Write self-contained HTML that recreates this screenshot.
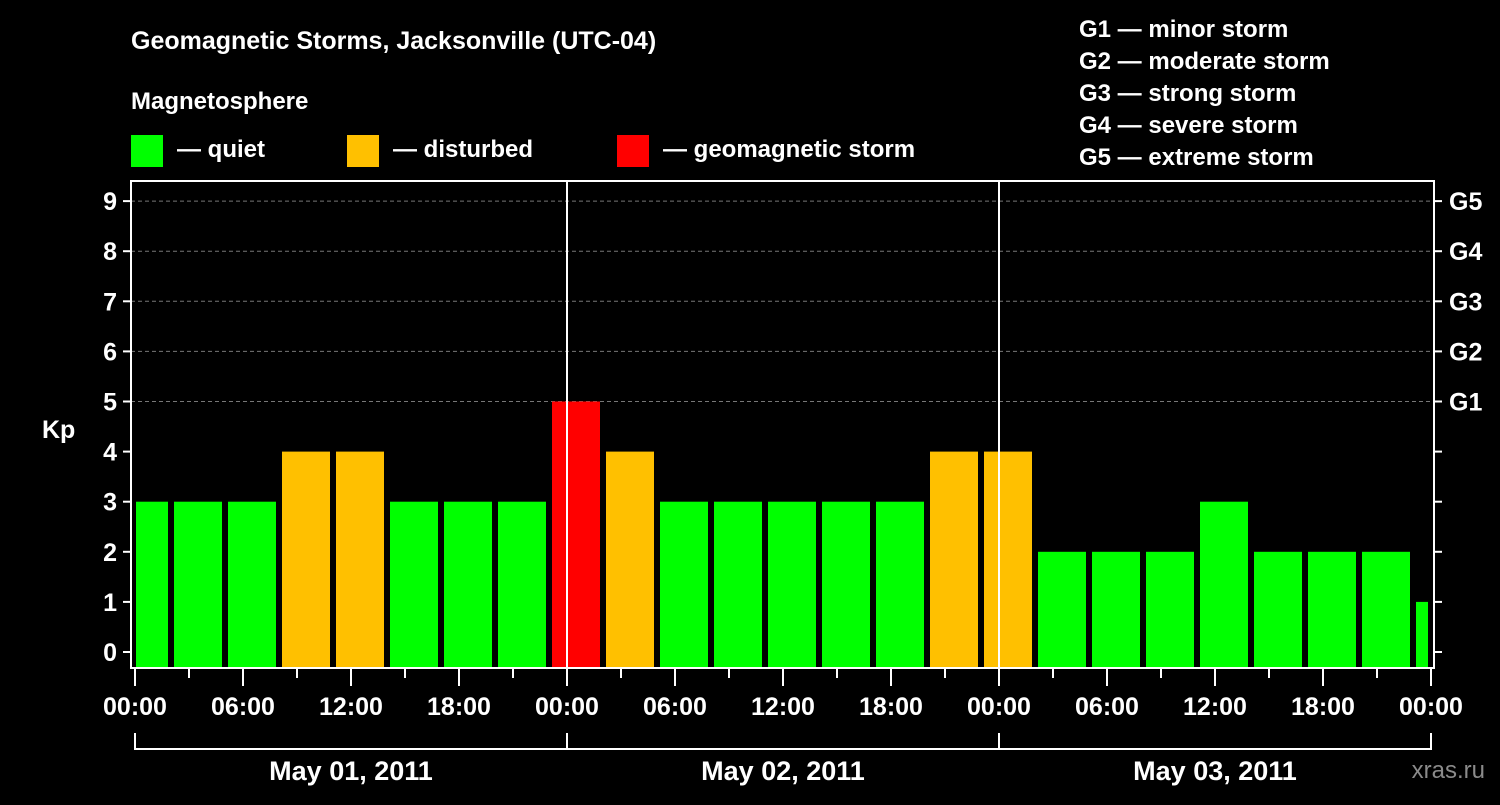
<!DOCTYPE html>
<html><head><meta charset="utf-8"><style>
body{margin:0;background:#000;width:1500px;height:800px;overflow:hidden}
svg text{font-family:"Liberation Sans",Arial,sans-serif;font-weight:bold;fill:#fff}
</style></head><body>
<svg id="chart" width="1500" height="800" xmlns="http://www.w3.org/2000/svg">
<text x="131" y="49" font-size="25">Geomagnetic Storms, Jacksonville (UTC-04)</text>
<text x="131" y="109" font-size="24">Magnetosphere</text>
<g><rect x="131" y="135" width="32" height="32" fill="#00ff00"/><text x="177" y="157" font-size="24">— quiet</text></g>
<g><rect x="347" y="135" width="32" height="32" fill="#ffc000"/><text x="393" y="157" font-size="24">— disturbed</text></g>
<g><rect x="617" y="135" width="32" height="32" fill="#ff0000"/><text x="663" y="157" font-size="24">— geomagnetic storm</text></g>
<g font-size="24">
<text x="1079" y="37">G1 — minor storm</text>
<text x="1079" y="69">G2 — moderate storm</text>
<text x="1079" y="101">G3 — strong storm</text>
<text x="1079" y="133">G4 — severe storm</text>
<text x="1079" y="165">G5 — extreme storm</text>
</g>
<text x="42" y="438" font-size="25">Kp</text>
<text x="1485" y="778" font-size="24" text-anchor="end" fill="#888" style="fill:#8a8a8a;font-weight:normal">xras.ru</text>
<g id="plot"></g>
</svg>
<script>
const kpValues=[3,3,3,4,4,3,3,3,5,4,3,3,3,3,3,4,4,2,2,2,3,2,2,2,1];
const yTicks=[0,1,2,3,4,5,6,7,8,9];
const gLabels=["G1","G2","G3","G4","G5"];
const xTickLabels=["00:00","06:00","12:00","18:00","00:00","06:00","12:00","18:00","00:00","06:00","12:00","18:00","00:00"];
const dayLabels=["May 01, 2011","May 02, 2011","May 03, 2011"];
const binStartHour=-1, binHours=3;
const NS="http://www.w3.org/2000/svg";
const L=131,R=1434,T=181,B=668;
const X=h=>135+h*18;
const Y=v=>652-v*50.1;
const g=document.getElementById('plot');
function mk(tag,attrs,parent){const e=document.createElementNS(NS,tag);for(const k in attrs)e.setAttribute(k,attrs[k]);(parent||g).appendChild(e);return e;}
// grid
yTicks.forEach(v=>{if(v>=5){const l=mk('line',{x1:L,x2:R,y1:Y(v),y2:Y(v),stroke:'#777','stroke-dasharray':'4,3','stroke-width':1});

}});
// bars
kpValues.forEach((v,i)=>{const s=binStartHour+i*binHours;let x0=Math.max(X(s)+3,136),x1=Math.min(X(s+binHours)-3,1428);
const c=v>=5?'#ff0000':(v>=4?'#ffc000':'#00ff00');
const r=mk('rect',{x:x0,y:Y(v),width:x1-x0,height:B-Y(v),fill:c});

});
// day lines
[1,2].forEach(d=>{const l=mk('line',{x1:X(24*d),x2:X(24*d),y1:T,y2:B,stroke:'#fff','stroke-width':2});

});
// frame
const f=mk('rect',{x:L,y:T,width:R-L,height:B-T,fill:'none',stroke:'#fff','stroke-width':2});


// y ticks
yTicks.forEach(v=>{mk('line',{x1:L-8,x2:L,y1:Y(v),y2:Y(v),stroke:'#fff','stroke-width':2});
mk('line',{x1:R,x2:R+8,y1:Y(v),y2:Y(v),stroke:'#fff','stroke-width':2});
const t=mk('text',{x:L-14,y:Y(v)+9,'font-size':25,'text-anchor':'end'});t.textContent=v;

});
gLabels.forEach((s,i)=>{const t=mk('text',{x:1449,y:Y(5+i)+9,'font-size':25});t.textContent=s;

});
// x ticks
for(let h=0;h<=72;h+=3){mk('line',{x1:X(h),x2:X(h),y1:B+1,y2:h%6?B+10:B+18,stroke:'#fff','stroke-width':2});}
xTickLabels.forEach((s,i)=>{const t=mk('text',{x:X(i*6),y:715,'font-size':25,'text-anchor':'middle'});t.textContent=s;

});
// day brackets
mk('path',{d:`M${X(0)} 733V749H${X(72)}V733M${X(24)} 733V749M${X(48)} 733V749`,fill:'none',stroke:'#fff','stroke-width':2});
dayLabels.forEach((s,i)=>{const t=mk('text',{x:X(24*i+12),y:780,'font-size':27,'text-anchor':'middle'});t.textContent=s;

});
</script>
</body></html>
